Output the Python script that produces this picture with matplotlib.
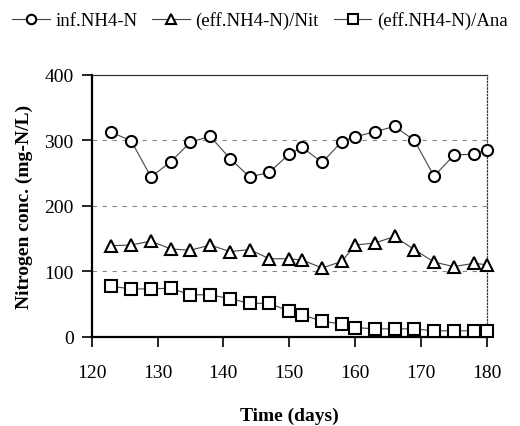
import matplotlib
matplotlib.use("Agg")
import matplotlib.pyplot as plt

days = [123, 126, 129, 132, 135, 138, 141, 144, 147, 150, 152,
        155, 158, 160, 163, 166, 169, 172, 175, 178, 180]
inf_nh4 = [312, 299, 244, 267, 297, 306, 272, 244, 251, 279, 289,
           266, 298, 305, 313, 321, 300, 245, 277, 279, 285]
eff_nit = [139, 140, 146, 134, 132, 140, 130, 133, 119, 119, 117,
           105, 115, 140, 143, 153, 133, 114, 107, 112, 110]
eff_ana = [77, 73, 73, 74, 64, 64, 58, 51, 51, 39, 33,
           24, 19, 14, 12, 12, 12, 9, 9, 9, 9]

labels = ["inf.NH4-N", "(eff.NH4-N)/Nit", "(eff.NH4-N)/Ana"]
markers = ["o", "^", "s"]
sizes = [8, 9, 8]

plt.rcParams["font.family"] = ["Liberation Serif", "DejaVu Serif"]

fig = plt.figure(figsize=(5.2, 4.27), dpi=100)
ax = fig.add_axes([0.1763, 0.2091, 0.7597, 0.6136])

for series, lab, mk, ms in zip([inf_nh4, eff_nit, eff_ana], labels, markers, sizes):
    ax.plot(days, series, marker=mk, ms=ms, mfc="white", mec="black", mew=1.5,
            color="#444444", lw=0.8, label=lab, clip_on=False, zorder=3)

ax.set_xlim(120, 180)
ax.set_ylim(0, 400)
ax.set_xticks(range(120, 181, 10))
ax.set_yticks(range(0, 401, 100))
ax.tick_params(direction="out", length=7, width=1.2, labelsize=14, pad=6)
ax.tick_params(axis="x", pad=13)

for y in [100, 200, 300]:
    ax.axhline(y, color="#888888", lw=0.8, ls=(0, (4, 5)), zorder=1)

ax.spines["left"].set_linewidth(1.6)
ax.spines["bottom"].set_linewidth(1.6)
ax.spines["top"].set_linewidth(0.9)
ax.spines["top"].set_color("#333333")
ax.spines["right"].set_linewidth(0.9)
ax.spines["right"].set_linestyle(":")
ax.spines["right"].set_color("#333333")

ax.set_xlabel("Time (days)", fontsize=14, fontweight="bold", labelpad=18)
ax.set_ylabel("Nitrogen conc. (mg-N/L)", fontsize=14, fontweight="bold", labelpad=8)

fig.legend(loc="center", bbox_to_anchor=(0.5, 0.95), ncol=3, frameon=False,
           fontsize=13.5, handlelength=2.0, handletextpad=0.3, columnspacing=0.8,
           markerscale=0.85)

fig.savefig("out.png", dpi=100)
